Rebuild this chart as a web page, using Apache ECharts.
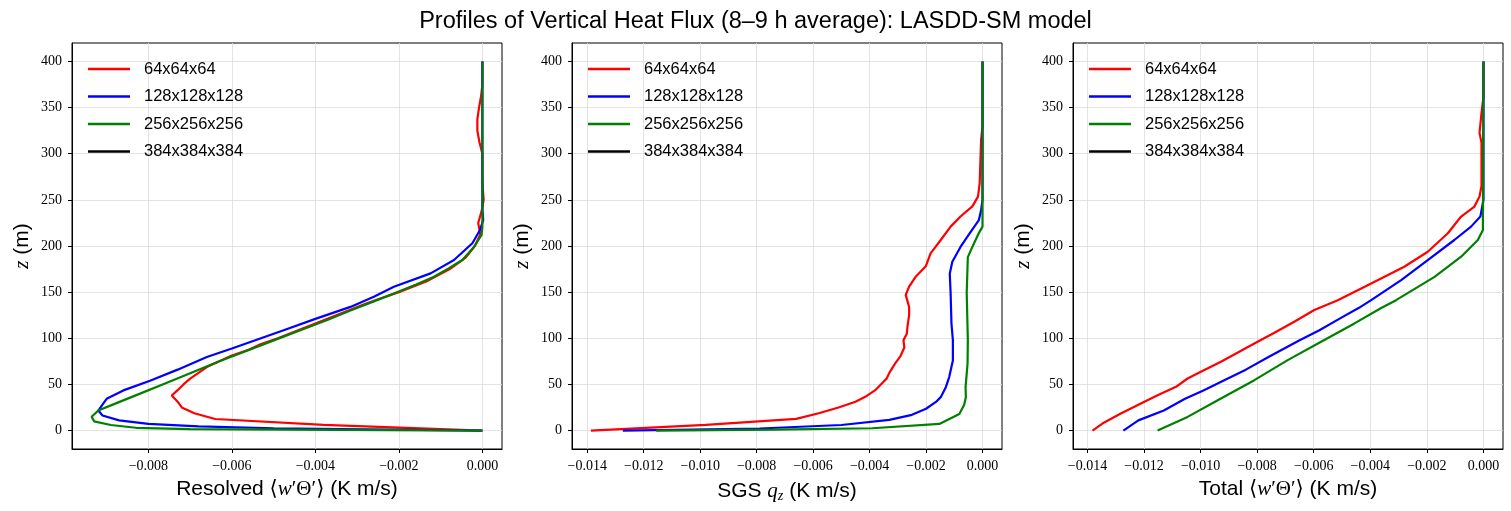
<!DOCTYPE html>
<html>
<head>
<meta charset="utf-8">
<script src="https://cdn.jsdelivr.net/npm/echarts@6/dist/echarts.min.js"></script>
<style>
  html, body { margin: 0; padding: 0; background: #fff; }
  #main { width: 1511px; height: 511px; }
</style>
</head>
<body>
<div id="main"></div>
<script>
// legend / series names
const runNames = ['64x64x64', '128x128x128', '256x256x256', '384x384x384'];
const runColors = ['#ff0000', '#0000ff', '#008000', '#000000'];

// tick values
const zTicks = [0, 50, 100, 150, 200, 250, 300, 350, 400];
const resTicks = [-0.008, -0.006, -0.004, -0.002, 0];
const fluxTicks = [-0.014, -0.012, -0.010, -0.008, -0.006, -0.004, -0.002, 0];

// resolved <w'T'> profiles, [flux, z]
const res64 = [[0,0],[-0.0038,6.25],[-0.0064,12.5],[-0.0069,18.75],[-0.0072,25],[-0.0073,31.25],[-0.00744,38],[-0.0073,43.75],[-0.00716,50],[-0.0070,56.25],[-0.0068,62.5],[-0.0066,68.75],[-0.0063,75],[-0.0060,81.25],[-0.0056,87.5],[-0.0053,93.75],[-0.0049,100],[-0.0042,112.5],[-0.0035,125],[-0.0028,137.5],[-0.0020,150],[-0.0013,162.5],[-0.00078,175],[-0.0004,187.5],[-0.00018,200],[-0.00005,212.5],[-0.0001,225],[-0.00002,237.5],[0.00003,250],[0.00001,262.5],[0,275],[0,300],[-0.00007,312.5],[-0.00012,325],[-0.00012,337.5],[-0.00008,350],[-0.00003,362.5],[0,375],[0,400]];
const res128 = [[0,0],[-0.0050,2.5],[-0.0068,4.5],[-0.0080,7.3],[-0.0087,11],[-0.0091,16.3],[-0.0092,21.7],[-0.0091,28],[-0.0090,34.4],[-0.0086,43.5],[-0.00796,54],[-0.0073,66],[-0.0066,79.7],[-0.0060,89],[-0.00544,97.8],[-0.00476,108.7],[-0.0040,121],[-0.00316,134],[-0.0026,145],[-0.00212,155.8],[-0.00124,170.3],[-0.00068,184.8],[-0.00024,203],[-0.00006,217],[0.00002,228],[0,240],[0,400]];
const res256 = [[0,0],[-0.0070,1.5],[-0.0083,3],[-0.0089,6],[-0.0093,10],[-0.00936,15],[-0.0092,21.7],[-0.00875,30],[-0.0082,40],[-0.00766,50],[-0.0070,62],[-0.0063,75],[-0.00567,86],[-0.00498,98],[-0.00436,108.7],[-0.0037,120],[-0.00316,130],[-0.0026,140],[-0.00212,148.6],[-0.0016,158],[-0.00116,166.6],[-0.0008,176],[-0.00048,184.8],[-0.0002,199],[-0.00002,212],[0,220],[0,400]];

// SGS q_z profiles, [flux, z]
const sgs64 = [[-0.01387,0],[-0.0098,6.2],[-0.0066,12.7],[-0.0058,18.75],[-0.0051,25],[-0.0045,31.25],[-0.0041,37.5],[-0.0038,43.75],[-0.0036,50],[-0.0034,56.25],[-0.0033,62.5],[-0.0031,72.5],[-0.0029,81],[-0.00277,90],[-0.0028,98],[-0.00268,105],[-0.00266,112],[-0.0026,125],[-0.0026,134],[-0.00272,147],[-0.0026,156],[-0.00236,167],[-0.00201,178],[-0.00184,192],[-0.00148,206.5],[-0.00113,221],[-0.00078,232],[-0.00036,243],[-0.00016,253.5],[-0.0001,268],[-0.00005,315],[0,330],[0,400]];
const sgs128 = [[-0.01274,0],[-0.0079,2.2],[-0.0050,6],[-0.0033,11.6],[-0.0025,17],[-0.0020,23.6],[-0.00165,31],[-0.00148,36.2],[-0.0013,47],[-0.00118,58],[-0.00105,76],[-0.00105,98],[-0.0011,116],[-0.00113,149],[-0.00116,170],[-0.00107,183],[-0.00078,199],[-0.00045,214],[-0.00013,228],[-0.00005,239],[0,250],[0,400]];
const sgs256 = [[-0.01156,0],[-0.0074,1.1],[-0.0039,2.5],[-0.00153,7.2],[-0.00082,18],[-0.00065,28],[-0.00059,36],[-0.0006,47],[-0.00053,72.5],[-0.00052,98],[-0.00056,149],[-0.00052,188],[-0.00036,199],[-0.00013,214],[0,221],[0,400]];

// total <w'T'> profiles, [flux, z]
const tot64 = [[-0.01382,0],[-0.01347,7.6],[-0.01282,18.4],[-0.01211,29.3],[-0.01152,38.3],[-0.01087,47.4],[-0.01046,56.4],[-0.00999,63.7],[-0.00928,74.5],[-0.0081,94.4],[-0.00739,106],[-0.00669,117.9],[-0.00598,130.6],[-0.00515,141.3],[-0.00397,159.4],[-0.0028,177.5],[-0.00197,193.8],[-0.00126,213.8],[-0.00103,222.8],[-0.00079,231.9],[-0.00032,242.7],[-0.00014,253.6],[-0.00007,265],[-0.00007,312],[-0.00014,322.5],[-0.00007,344],[0,362],[0,400]];
const tot128 = [[-0.01273,0],[-0.0122,11],[-0.0113,21.7],[-0.01055,34.4],[-0.0099,43.5],[-0.0092,54],[-0.0084,66],[-0.0076,79.7],[-0.0065,97.8],[-0.0058,108.7],[-0.0051,121],[-0.0044,133],[-0.00397,141.3],[-0.00291,163],[-0.00197,184.8],[-0.00103,206.5],[-0.00044,221],[-0.00011,232],[0,250],[0,400]];
const tot256 = [[-0.01152,0],[-0.01046,14.8],[-0.00928,34.7],[-0.0081,54.6],[-0.00692,76.3],[-0.00574,96.2],[-0.00456,116.1],[-0.0036,133],[-0.00309,141.3],[-0.00173,166.6],[-0.00079,188.4],[-0.0002,206.5],[-0.00002,217.4],[0,400]];

const serif = '"Liberation Serif", "DejaVu Serif", serif';
const sans = '"Liberation Sans", "DejaVu Sans", sans-serif';

const panels = [
    { left: 72, xmin: -0.00983, xmax: 0.00047, ticks: resTicks, data: [res64, res128, res256],
      name: 'Resolved {m|⟨}{i|w}{m|′Θ′⟩} (K m/s)' },
    { left: 572, xmin: -0.01454, xmax: 0.00069, ticks: fluxTicks, data: [sgs64, sgs128, sgs256],
      name: 'SGS {i|q}{s|z} (K m/s)' },
    { left: 1073, xmin: -0.01451, xmax: 0.00069, ticks: fluxTicks, data: [tot64, tot128, tot256],
      name: 'Total {m|⟨}{i|w}{m|′Θ′⟩} (K m/s)' }
];

const chart = echarts.init(document.getElementById('main'));

function fmtFlux(v) {
    const s = Math.abs(v).toFixed(3);
    return v < -1e-9 ? '\u2212' + s : s;
}

const nameRich = {
    m: { fontFamily: serif, fontSize: 21, color: '#000' },
    i: { fontFamily: serif, fontSize: 21, fontStyle: 'italic', color: '#000' },
    s: { fontFamily: serif, fontSize: 14, fontStyle: 'italic', color: '#000', padding: [10, 0, 0, 0] }
};

const grids = [], xAxes = [], yAxes = [], legends = [], series = [];
panels.forEach((p, k) => {
    grids.push({ left: p.left, top: 43, width: 430, height: 406, show: true,
        borderColor: '#000', borderWidth: 1, outerBoundsMode: 'none' });
    xAxes.push({
        type: 'value', gridIndex: k, min: p.xmin, max: p.xmax,
        name: p.name, nameLocation: 'middle', nameGap: 30,
        nameTextStyle: { fontFamily: sans, fontSize: 21, color: '#000', rich: nameRich },
        axisLine: { show: true, onZero: false, lineStyle: { color: '#000', width: 1 } },
        axisTick: { show: true, length: 4, customValues: p.ticks, lineStyle: { color: '#000', width: 1 } },
        axisLabel: { customValues: p.ticks, formatter: fmtFlux, fontFamily: serif, fontSize: 14, color: '#000', margin: 10 },
        splitLine: { show: true, customValues: p.ticks, lineStyle: { color: '#dcdcdc', width: 0.8 } }
    });
    yAxes.push({
        type: 'value', gridIndex: k, min: -20, max: 420,
        name: '{i|z} (m)', nameLocation: 'middle', nameGap: 39,
        nameTextStyle: { fontFamily: sans, fontSize: 21, color: '#000', rich: nameRich },
        axisLine: { show: true, onZero: false, lineStyle: { color: '#000', width: 1 } },
        axisTick: { show: true, length: 4, customValues: zTicks, lineStyle: { color: '#000', width: 1 } },
        axisLabel: { customValues: zTicks, fontFamily: serif, fontSize: 14, color: '#000', margin: 10 },
        splitLine: { show: true, customValues: zTicks, lineStyle: { color: '#dcdcdc', width: 0.8 } }
    });
    legends.push({
        data: runNames, orient: 'vertical', left: p.left + 11, top: 55,
        icon: 'rect', itemWidth: 42, itemHeight: 2.5, itemGap: 9.5,
        textStyle: { fontFamily: sans, fontSize: 16.5, color: '#000', padding: [0, 0, 0, 9], lineHeight: 18 },
        selectedMode: false
    });
    p.data.forEach((d, j) => {
        series.push({
            type: 'line', name: runNames[j], xAxisIndex: k, yAxisIndex: k,
            data: d, showSymbol: false, symbol: 'none', smooth: false,
            lineStyle: { color: runColors[j], width: 2.2 }, itemStyle: { color: runColors[j] },
            animation: false
        });
    });
    series.push({
        type: 'line', name: runNames[3], xAxisIndex: k, yAxisIndex: k, data: [],
        showSymbol: false, lineStyle: { color: runColors[3], width: 2.2 }, itemStyle: { color: runColors[3] },
        animation: false
    });
});

chart.setOption({
    animation: false,
    title: {
        text: 'Profiles of Vertical Heat Flux (8–9 h average): LASDD-SM model',
        left: 'center', top: 5,
        textStyle: { fontFamily: sans, fontSize: 23.5, fontWeight: 'normal', color: '#000' }
    },
    grid: grids,
    xAxis: xAxes,
    yAxis: yAxes,
    legend: legends,
    series: series
});
</script>
</body>
</html>
